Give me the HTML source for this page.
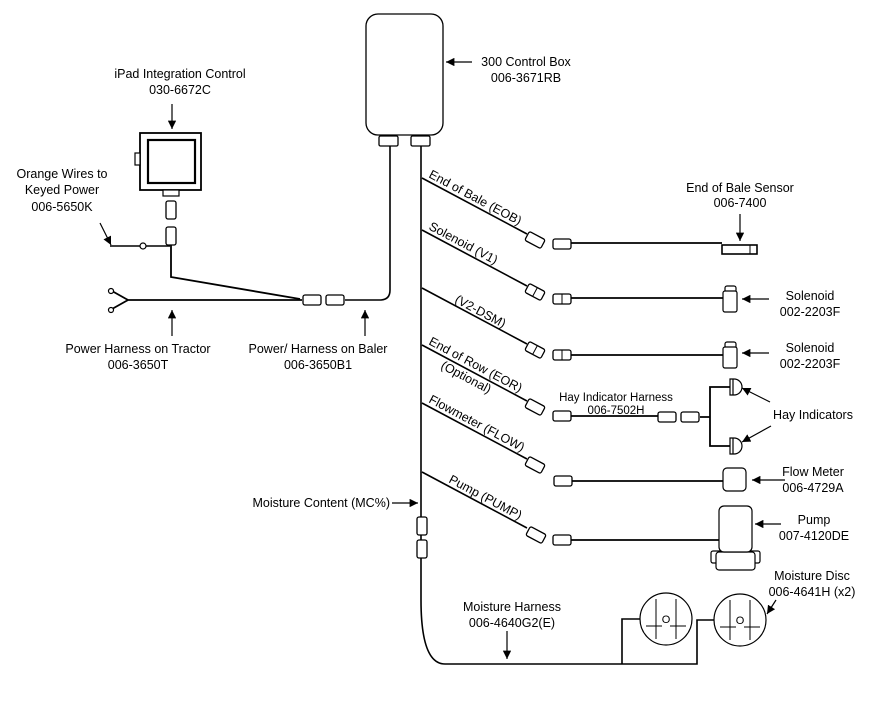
<!DOCTYPE html>
<html><head><meta charset="utf-8"><style>
html,body{margin:0;padding:0;background:#fff;}
svg{display:block;font-family:"Liberation Sans",Arial,sans-serif;font-size:12.5px;}
</style></head><body>
<svg width="876" height="707" viewBox="0 0 876 707" xmlns="http://www.w3.org/2000/svg">
<defs>
<marker id="a" viewBox="0 0 10 10" refX="10" refY="5" markerWidth="7" markerHeight="7" orient="auto"><path d="M0,0L10,5L0,10z" fill="#000"/></marker>
<g id="conn"><rect x="-9" y="-5" width="18" height="10" rx="2" fill="#fff" stroke="#000" stroke-width="1.3"/></g>
<g id="disc">
<circle r="26" fill="#fff" stroke="#000" stroke-width="1.2"/>
<line x1="-10" y1="-20" x2="-10" y2="20" stroke="#000"/><line x1="10" y1="-20" x2="10" y2="20" stroke="#000"/>
<line x1="-20" y1="7" x2="-4" y2="7" stroke="#000"/><line x1="4" y1="7" x2="20" y2="7" stroke="#000"/>
<text x="0" y="4" text-anchor="middle" font-size="11">O</text>
</g>
</defs>
<g fill="none" stroke="#000" stroke-width="1.6">
<rect x="366" y="14" width="77" height="121" rx="12" fill="#fff" stroke-width="1.3"/>
<rect x="379" y="136" width="19" height="10" rx="1.5" fill="#fff" stroke-width="1.3"/>
<rect x="411" y="136" width="19" height="10" rx="1.5" fill="#fff" stroke-width="1.3"/>
<path d="M390,146 V290 Q390,300 380,300 H345"/>
<path d="M421,146 V600 Q421,664 445,664 H697 V620 H714"/>
<path d="M622,664 V619 H640"/>
<path d="M422,178 L527,234 M422,230 L527,286 M422,288 L527,344 M422,345 L527,401 M422,403 L527,459 M422,472 L527,528"/>
<path d="M571,243 H722 M571,298 H723 M571,355 H723 M571,416 H658 M700,417 H710 V387 H730 M710,417 V446 H730 M571,481 H723 M571,540 H719" stroke-width="1.8"/>
<path d="M110,246 H170" stroke-width="1.4"/>
<path d="M171,245 V277 L300,299" stroke-width="1.8"/>
<path d="M128,300 H302 M112,291 L128,300 L112,309" stroke-width="1.8"/>
</g>
<g transform="translate(535,240) rotate(28)"><use href="#conn"/></g>
<g transform="translate(535,292) rotate(28)"><use href="#conn"/><line x1="0" y1="-5" x2="0" y2="5" stroke="#000"/></g>
<g transform="translate(535,350) rotate(28)"><use href="#conn"/><line x1="0" y1="-5" x2="0" y2="5" stroke="#000"/></g>
<g transform="translate(535,407) rotate(28)"><use href="#conn"/></g>
<g transform="translate(535,465) rotate(28)"><use href="#conn"/></g>
<g transform="translate(536,535) rotate(28)"><use href="#conn"/></g>
<use href="#conn" x="562" y="244"/>
<use href="#conn" x="562" y="299"/><line x1="562" y1="294" x2="562" y2="304" stroke="#000"/>
<use href="#conn" x="562" y="355"/><line x1="562" y1="350" x2="562" y2="360" stroke="#000"/>
<use href="#conn" x="562" y="416"/>
<use href="#conn" x="667" y="417"/><use href="#conn" x="690" y="417"/>
<use href="#conn" x="563" y="481"/>
<use href="#conn" x="562" y="540"/>
<use href="#conn" x="312" y="300"/><use href="#conn" x="335" y="300"/>
<g transform="translate(422,526) rotate(90)"><use href="#conn"/></g>
<g transform="translate(422,549) rotate(90)"><use href="#conn"/></g>
<g transform="translate(171,210) rotate(90)"><use href="#conn"/></g>
<g transform="translate(171,236) rotate(90)"><use href="#conn"/></g>
<rect x="722" y="245" width="35" height="9" fill="#fff" stroke="#000" stroke-width="1.6"/><line x1="750" y1="245" x2="750" y2="254" stroke="#000"/>
<g fill="#fff" stroke="#000" stroke-width="1.2">
<rect x="725" y="286" width="11" height="7" rx="2"/><rect x="723" y="291" width="14" height="21" rx="2"/>
<rect x="725" y="342" width="11" height="7" rx="2"/><rect x="723" y="347" width="14" height="21" rx="2"/>
<path d="M730,379 h4 a8,8 0 0 1 0,16 h-4 z M733,379 v16"/>
<path d="M730,438 h4 a8,8 0 0 1 0,16 h-4 z M733,438 v16"/>
<rect x="723" y="468" width="23" height="23" rx="4"/>
<rect x="711" y="551" width="49" height="12" rx="2"/><rect x="716" y="552" width="39" height="18" rx="3"/>
<rect x="719" y="506" width="33" height="46" rx="5"/>
<rect x="140" y="133" width="61" height="57" stroke-width="1.8"/><rect x="148" y="140" width="47" height="43" stroke-width="2.2"/>
<rect x="135" y="153" width="5" height="12"/><rect x="163" y="190" width="16" height="6"/>
<circle cx="143" cy="246" r="3"/><circle cx="111" cy="291" r="2.5"/><circle cx="111" cy="310" r="2.5"/>
</g>
<use href="#disc" x="666" y="619"/><use href="#disc" x="740" y="620"/>
<g stroke="#000" stroke-width="1.2" marker-end="url(#a)">
<line x1="472" y1="62" x2="446" y2="62"/>
<line x1="172" y1="104" x2="172" y2="129"/>
<line x1="100" y1="223" x2="111" y2="245"/>
<line x1="172" y1="336" x2="172" y2="310"/>
<line x1="365" y1="336" x2="365" y2="310"/>
<line x1="740" y1="214" x2="740" y2="241"/>
<line x1="769" y1="299" x2="742" y2="299"/>
<line x1="769" y1="353" x2="742" y2="353"/>
<line x1="770" y1="402" x2="742" y2="388"/>
<line x1="771" y1="426" x2="742" y2="442"/>
<line x1="785" y1="480" x2="752" y2="480"/>
<line x1="781" y1="524" x2="755" y2="524"/>
<line x1="776" y1="600" x2="767" y2="614"/>
<line x1="392" y1="503" x2="418" y2="503"/>
<line x1="507" y1="631" x2="507" y2="659"/>
</g>
<g fill="#000" text-anchor="middle">
<text x="526" y="66">300 Control Box</text><text x="526" y="82">006-3671RB</text>
<text x="180" y="78">iPad Integration Control</text><text x="180" y="94">030-6672C</text>
<text x="62" y="178">Orange Wires to</text><text x="62" y="194">Keyed Power</text><text x="62" y="211">006-5650K</text>
<text x="138" y="353">Power Harness on Tractor</text><text x="138" y="369">006-3650T</text>
<text x="318" y="353">Power/ Harness on Baler</text><text x="318" y="369">006-3650B1</text>
<text x="740" y="192">End of Bale Sensor</text><text x="740" y="207">006-7400</text>
<text x="810" y="300">Solenoid</text><text x="810" y="316">002-2203F</text>
<text x="810" y="352">Solenoid</text><text x="810" y="368">002-2203F</text>
<text x="616" y="401" font-size="11.5">Hay Indicator Harness</text><text x="616" y="414" font-size="11.5">006-7502H</text>
<text x="813" y="419">Hay Indicators</text>
<text x="813" y="476">Flow Meter</text><text x="813" y="492">006-4729A</text>
<text x="814" y="524">Pump</text><text x="814" y="540">007-4120DE</text>
<text x="812" y="580">Moisture Disc</text><text x="812" y="596">006-4641H (x2)</text>
<text x="512" y="611">Moisture Harness</text><text x="512" y="627">006-4640G2(E)</text>
<text x="390" y="507" text-anchor="end">Moisture Content (MC%)</text>
</g>
<g fill="#000" font-size="12.5">
<text transform="translate(428,177) rotate(28)">End of Bale (EOB)</text>
<text transform="translate(428,229) rotate(28)">Solenoid (V1)</text>
<text transform="translate(454,302) rotate(28)">(V2-DSM)</text>
<text transform="translate(428,344) rotate(28)">End of Row (EOR)</text>
<text transform="translate(440,368) rotate(28)">(Optional)</text>
<text transform="translate(428,402) rotate(28)">Flowmeter (FLOW)</text>
<text transform="translate(448,482) rotate(28)">Pump (PUMP)</text>
</g>
</svg>
</body></html>
